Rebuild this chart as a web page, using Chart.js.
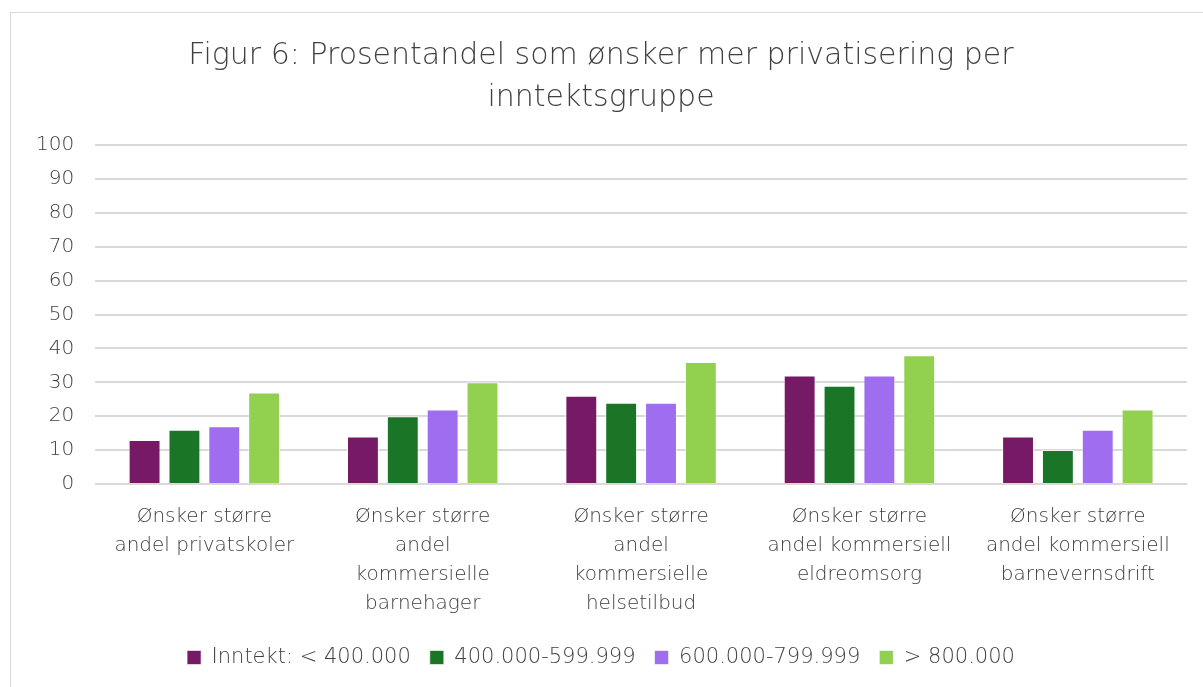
<!DOCTYPE html>
<html>
<head>
<meta charset="utf-8">
<script src="https://cdn.jsdelivr.net/npm/chart.js@4"></script>
<style>
    html, body { margin: 0; padding: 0; background: #fff; }
    #frame { position: absolute; left: 10px; top: 12px; width: 1200px; height: 690px; border: 1px solid #d9d9d9; box-sizing: border-box; }
    #wrap { position: absolute; left: 11px; top: 13px; width: 1192px; height: 674px; }
</style>
</head>
<body>
<div id="frame"></div>
<div id="wrap"><canvas id="privChart"></canvas></div>
<script>
// Data
const categories = [
    ['Ønsker større', 'andel privatskoler'],
    ['Ønsker større', 'andel', 'kommersielle', 'barnehager'],
    ['Ønsker større', 'andel', 'kommersielle', 'helsetilbud'],
    ['Ønsker større', 'andel kommersiell', 'eldreomsorg'],
    ['Ønsker større', 'andel kommersiell', 'barnevernsdrift']
];
const seriesNames = ['Inntekt: < 400.000', '400.000-599.999', '600.000-799.999', '> 800.000'];
const under400 = [13, 14, 26, 32, 14];
const from400to600 = [16, 20, 24, 29, 10];
const from600to800 = [17, 22, 24, 32, 16];
const over800 = [27, 30, 36, 38, 22];
const colors = ['#771a66', '#1a7527', '#9e6df0', '#92d050'];

const fontFamily = "'DejaVu Sans', sans-serif";
const textColor = '#404040';

const ctx = document.getElementById('privChart').getContext('2d');
new Chart(ctx, {
    type: 'bar',
    data: {
        labels: categories,
        datasets: [under400, from400to600, from600to800, over800].map((d, i) => ({
            label: seriesNames[i],
            data: d,
            backgroundColor: colors[i],
            borderColor: 'rgba(255,255,255,0.6)',
            borderWidth: 1,
            categoryPercentage: 0.73,
            barPercentage: 0.8
        }))
    },
    options: {
        responsive: true,
        maintainAspectRatio: false,
        animation: false,
        layout: { padding: { left: 4, right: 16, top: 6, bottom: 9 } },
        plugins: {
            title: {
                display: true,
                text: ['Figur 6: Prosentandel som ønsker mer privatisering per', 'inntektsgruppe'],
                color: textColor,
                font: { family: fontFamily, size: 30, weight: 200, lineHeight: 1.4 },
                padding: { top: 16, bottom: 26 }
            },
            legend: {
                position: 'bottom',
                labels: {
                    color: textColor,
                    boxWidth: 14,
                    boxHeight: 14,
                    padding: 19,
                    font: { family: fontFamily, size: 21, weight: 200 }
                }
            },
            tooltip: { enabled: false }
        },
        scales: {
            y: {
                min: 0,
                max: 100,
                ticks: { stepSize: 10, color: textColor, padding: 21, font: { family: fontFamily, size: 20, weight: 200 } },
                grid: { color: '#d9d9d9', lineWidth: 2, drawTicks: false },
                border: { display: false }
            },
            x: {
                ticks: { color: textColor, maxRotation: 0, autoSkip: false, padding: 10, font: { family: fontFamily, size: 20, weight: 200, lineHeight: 1.45 } },
                grid: { display: false },
                border: { display: false }
            }
        }
    }
});
</script>
</body>
</html>
